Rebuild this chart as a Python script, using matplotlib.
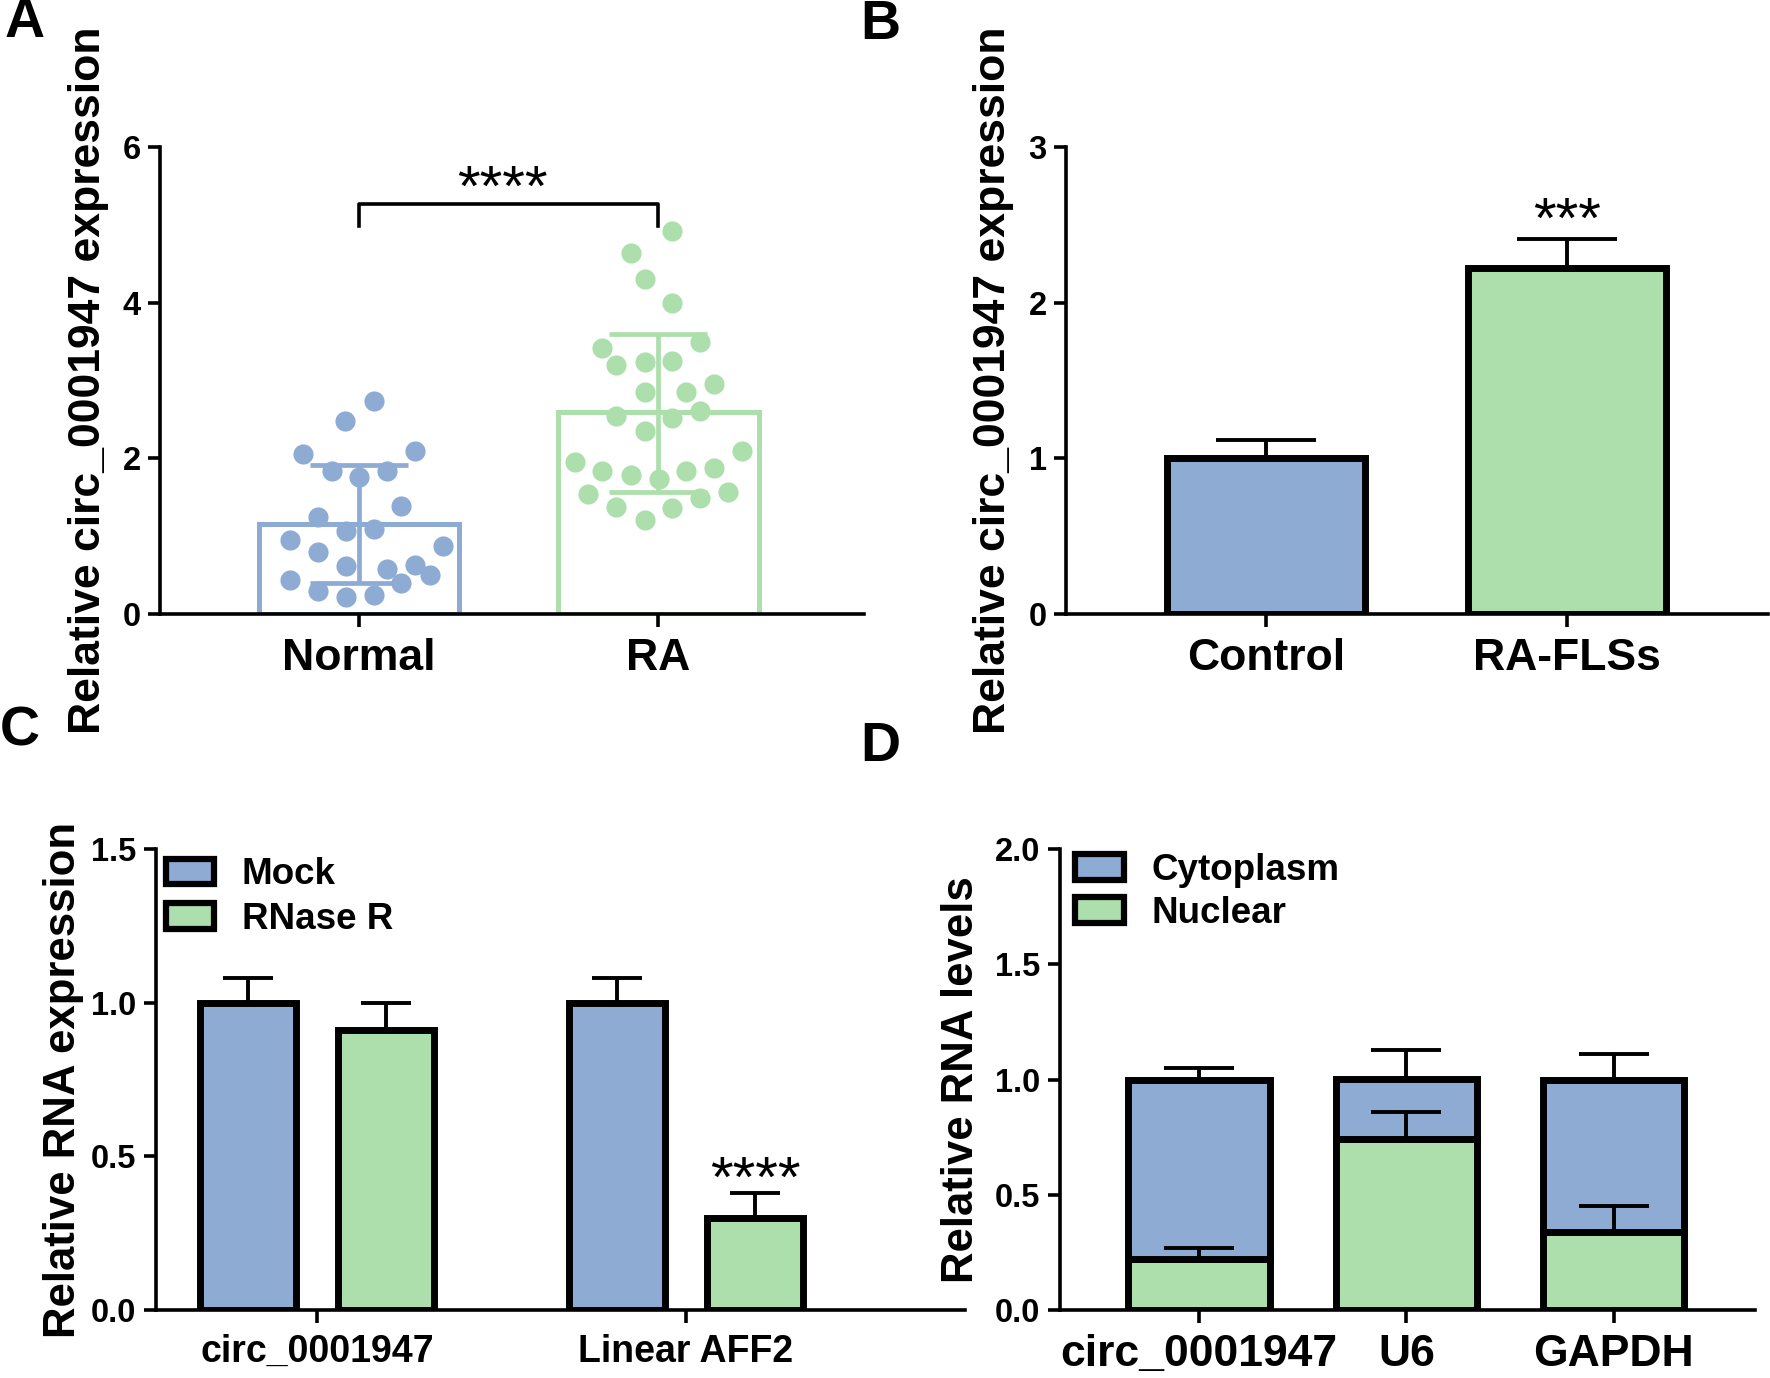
import matplotlib
matplotlib.use('Agg')
import matplotlib.pyplot as plt
from matplotlib.patches import Patch
import numpy as np

plt.rcParams['font.family'] = ['Liberation Sans', 'DejaVu Sans']
plt.rcParams['font.weight'] = 'bold'
plt.rcParams['axes.labelweight'] = 'bold'

BLUE = '#8DABD3'
GREEN = '#ADDFAC'

# ---------------- data ----------------
# Panel A
a_groups = ['Normal', 'RA']
a_means = [1.15, 2.60]
a_err_low = [0.40, 1.57]
a_err_high = [1.92, 3.60]
normal_vals = [2.74, 2.48, 2.06, 2.09, 1.84, 1.84, 1.76, 1.39, 1.25, 1.06, 1.09, 0.95,
               0.87, 0.80, 0.62, 0.58, 0.63, 0.50, 0.44, 0.40, 0.30, 0.22, 0.24]
normal_jitter = [0.049, -0.045, -0.185, 0.189, -0.090, 0.095, 0.002, 0.142, -0.136, -0.043,
                 0.049, -0.230, 0.282, -0.136, -0.043, 0.095, 0.189, 0.236, -0.230, 0.142,
                 -0.136, -0.043, 0.049]
ra_vals = [4.92, 4.64, 4.30, 3.99, 3.49, 3.42, 3.20, 3.24, 3.25, 2.96, 2.85, 2.85, 2.54,
           2.52, 2.61, 2.35, 2.09, 1.95, 1.84, 1.78, 1.74, 1.84, 1.88, 1.54, 1.57, 1.49,
           1.37, 1.36, 1.21]
ra_jitter = [0.047, -0.092, -0.045, 0.047, 0.140, -0.187, -0.140, -0.045, 0.047, 0.187,
             -0.045, 0.093, -0.140, 0.047, 0.140, -0.045, 0.280, -0.279, -0.187, -0.092,
             0.002, 0.093, 0.187, -0.234, 0.234, 0.140, -0.140, 0.047, -0.045]
a_sig = '****'

# Panel B
b_groups = ['Control', 'RA-FLSs']
b_means = [1.00, 2.22]
b_err = [0.12, 0.19]
b_sig = '***'

# Panel C
c_groups = ['circ_0001947', 'Linear AFF2']
c_mock = [1.00, 1.00]
c_mock_err = [0.08, 0.08]
c_rnase = [0.91, 0.30]
c_rnase_err = [0.09, 0.08]
c_series = ['Mock', 'RNase R']
c_sig = '****'

# Panel D
d_groups = ['circ_0001947', 'U6', 'GAPDH']
d_nuclear = [0.22, 0.74, 0.34]
d_nuclear_err = [0.05, 0.12, 0.11]
d_total = [1.00, 1.00, 1.00]
d_total_err = [0.05, 0.13, 0.11]
d_series = ['Cytoplasm', 'Nuclear']

# ---------------- figure ----------------
W, H = 1770, 1378
fig = plt.figure(figsize=(W / 100, H / 100), dpi=100)


def add_ax(l, r, t, b):
    return fig.add_axes([l / W, 1 - b / H, (r - l) / W, (b - t) / H])


def style(ax, xsize):
    for s in ['top', 'right']:
        ax.spines[s].set_visible(False)
    for s in ['left', 'bottom']:
        ax.spines[s].set_linewidth(2.6)
    ax.tick_params(axis='both', length=9, width=2.6, direction='out')
    ax.tick_params(axis='y', labelsize=23.5, pad=5)
    ax.tick_params(axis='x', labelsize=xsize, pad=8)


# Panel A
axA = add_ax(160, 864, 147, 614)
xa = np.arange(len(a_groups))
axA.bar(xa, a_means, width=0.67, fill=False, edgecolor=[BLUE, GREEN], linewidth=3.6, zorder=2)
axA.plot(xa[0] + np.array(normal_jitter), normal_vals, 'o', color=BLUE, markersize=14.5,
         markeredgewidth=0, zorder=3)
axA.plot(xa[1] + np.array(ra_jitter), ra_vals, 'o', color=GREEN, markersize=14.5,
         markeredgewidth=0, zorder=3)
for i, c in enumerate([BLUE, GREEN]):
    axA.errorbar(xa[i], a_means[i], yerr=[[a_means[i] - a_err_low[i]], [a_err_high[i] - a_means[i]]],
                 fmt='none', ecolor=c, elinewidth=3.4, capsize=35, capthick=3.4, zorder=4)
axA.plot([0, 0, 1, 1], [4.99, 5.27, 5.27, 4.99], color='black', lw=2.6, zorder=5)
axA.text(0.48, 5.24, a_sig, ha='center', va='baseline', fontsize=42, fontweight='normal')
axA.set_ylim(0, 6)
axA.set_yticks([0, 2, 4, 6])
axA.set_xlim(-0.664, 1.687)
axA.set_xticks(xa)
axA.set_xticklabels(a_groups)
style(axA, 32)
axA.set_ylabel('Relative circ_0001947 expression', fontsize=32, fontweight='bold')
axA.yaxis.set_label_coords(-0.072, 0.5)

# Panel B
axB = add_ax(1066, 1768, 147, 614)
xb = np.arange(len(b_groups))
axB.bar(xb, b_means, width=0.66, color=[BLUE, GREEN], edgecolor='black', linewidth=5, zorder=2)
axB.errorbar(xb, b_means, yerr=[[0, 0], b_err], fmt='none', ecolor='black', elinewidth=2.8,
             capsize=36, capthick=2.8, zorder=1)
axB.text(xb[1], b_means[1] + b_err[1] + 0.01, b_sig, ha='center', va='baseline', fontsize=42,
         fontweight='normal')
axB.set_ylim(0, 3)
axB.set_yticks([0, 1, 2, 3])
axB.set_xlim(-0.664, 1.668)
axB.set_xticks(xb)
axB.set_xticklabels(b_groups)
style(axB, 32)
axB.set_ylabel('Relative circ_0001947 expression', fontsize=32, fontweight='bold')
axB.yaxis.set_label_coords(-0.074, 0.5)

# Panel C
axC = add_ax(156, 965, 849, 1310)
xc = np.arange(len(c_groups))
off = 0.187
bw = 0.26
axC.bar(xc - off, c_mock, width=bw, color=BLUE, edgecolor='black', linewidth=5, zorder=2)
axC.bar(xc + off, c_rnase, width=bw, color=GREEN, edgecolor='black', linewidth=5, zorder=2)
axC.errorbar(xc - off, c_mock, yerr=[[0, 0], c_mock_err], fmt='none', ecolor='black',
             elinewidth=2.8, capsize=18, capthick=2.8, zorder=1)
axC.errorbar(xc + off, c_rnase, yerr=[[0, 0], c_rnase_err], fmt='none', ecolor='black',
             elinewidth=2.8, capsize=18, capthick=2.8, zorder=1)
axC.text(xc[1] + off, c_rnase[1] + c_rnase_err[1] - 0.01, c_sig, ha='center', va='baseline',
         fontsize=42, fontweight='normal')
axC.set_ylim(0, 1.5)
axC.set_yticks([0, 0.5, 1.0, 1.5])
axC.set_yticklabels(['0.0', '0.5', '1.0', '1.5'])
axC.set_xlim(-0.436, 1.756)
axC.set_xticks(xc)
axC.set_xticklabels(c_groups)
style(axC, 27)
axC.set_ylabel('Relative RNA expression', fontsize=31.5, fontweight='bold')
axC.yaxis.set_label_coords(-0.089, 0.5)
hC = [Patch(facecolor=BLUE, edgecolor='black', linewidth=4.5),
      Patch(facecolor=GREEN, edgecolor='black', linewidth=4.5)]
axC.legend(hC, c_series, loc='upper left', bbox_to_anchor=(0.008, 0.99), frameon=False,
           fontsize=26.5, handlelength=1.31, handleheight=0.7, handletextpad=0.75,
           labelspacing=0.27, borderaxespad=0, borderpad=0.1)

# Panel D
axD = add_ax(1060, 1755, 849, 1310)
xd = np.arange(len(d_groups))
cyto = [t - n for t, n in zip(d_total, d_nuclear)]
axD.bar(xd, d_nuclear, width=0.68, color=GREEN, edgecolor='black', linewidth=5, zorder=2)
axD.bar(xd, cyto, bottom=d_nuclear, width=0.68, color=BLUE, edgecolor='black', linewidth=5,
        zorder=2)
axD.errorbar(xd, d_nuclear, yerr=[[0] * 3, d_nuclear_err], fmt='none', ecolor='black',
             elinewidth=2.8, capsize=25, capthick=2.8, zorder=3)
axD.errorbar(xd, d_total, yerr=[[0] * 3, d_total_err], fmt='none', ecolor='black',
             elinewidth=2.8, capsize=25, capthick=2.8, zorder=1)
axD.set_ylim(0, 2.0)
axD.set_yticks([0, 0.5, 1.0, 1.5, 2.0])
axD.set_yticklabels(['0.0', '0.5', '1.0', '1.5', '2.0'])
axD.set_xlim(-0.67, 2.68)
axD.set_xticks(xd)
axD.set_xticklabels(d_groups)
style(axD, 32)
axD.set_ylabel('Relative RNA levels', fontsize=31.5, fontweight='bold')
axD.yaxis.set_label_coords(-0.112, 0.5)
hD = [Patch(facecolor=BLUE, edgecolor='black', linewidth=4.5),
      Patch(facecolor=GREEN, edgecolor='black', linewidth=4.5)]
axD.legend(hD, d_series, loc='upper left', bbox_to_anchor=(0.017, 1.0), frameon=False,
           fontsize=26.5, handlelength=1.31, handleheight=0.7, handletextpad=0.75,
           labelspacing=0.22, borderaxespad=0, borderpad=0.1)

# Panel letters
for lab, (px, py) in zip('ABCD', [(25, 23), (880, 25), (20, 731), (880, 747)]):
    fig.text(px / W, 1 - py / H, lab, fontsize=40, fontweight='bold', ha='center', va='center')

fig.savefig('out.png', dpi=100)
